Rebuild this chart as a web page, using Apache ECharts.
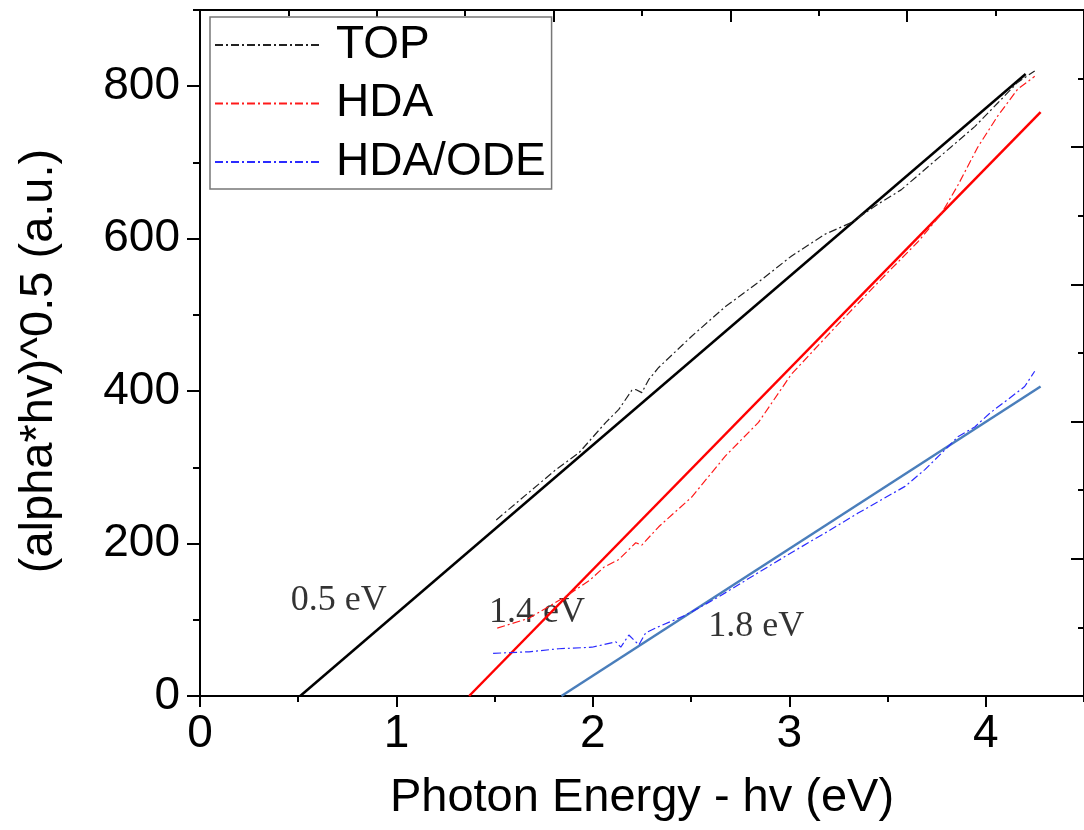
<!DOCTYPE html>
<html>
<head>
<meta charset="utf-8">
<title>Tauc plot</title>
<script src="https://cdn.jsdelivr.net/npm/echarts@6/dist/echarts.min.js"></script>
<style>
  html, body { margin: 0; padding: 0; background: #fff; }
  #chart { width: 1084px; height: 830px; }
</style>
</head>
<body>
<div id="chart"></div>
<script>
// measured curves, x = photon energy (eV), y = (alpha*hv)^0.5 (a.u.)
const topX = [1.508, 1.812, 1.929, 2.066, 2.132, 2.198, 2.218, 2.249, 2.284, 2.335, 2.503, 2.675,
	2.843, 3.010, 3.183, 3.315, 3.437, 3.569, 3.655, 3.822, 3.944, 4.061, 4.162, 4.249];
const topY = [231, 297, 319, 359, 376, 401, 402, 398, 415, 431, 472, 511,
	543, 577, 606, 621, 643, 664, 683, 720, 747, 778, 805, 820];

const hdaX = [1.513, 1.675, 1.858, 1.985, 2.056, 2.132, 2.218, 2.249, 2.335, 2.503, 2.675,
	2.843, 3.010, 3.249, 3.487, 3.655, 3.772, 3.858, 3.959, 4.061, 4.162, 4.249];
const hdaY = [89, 102, 130, 152, 169, 179, 201, 198, 222, 261, 315,
	359, 422, 488, 552, 596, 632, 670, 720, 761, 796, 813];

const odeX = [1.492, 1.675, 1.827, 1.995, 2.117, 2.142, 2.183, 2.234, 2.269, 2.335, 2.472, 2.640,
	2.843, 3.010, 3.183, 3.350, 3.589, 3.690, 3.792, 3.858, 3.944, 4.025, 4.112, 4.198, 4.249];
const odeY = [56, 58, 62, 64, 71, 64, 80, 67, 83, 91, 106, 130,
	162, 188, 214, 240, 275, 297, 323, 340, 353, 372, 389, 406, 426];

// linear fits (end points)
const fitTopX = [0.51, 4.203];
const fitTopY = [0, 816];
const fitHdaX = [1.37, 4.279];
const fitHdaY = [0, 766];
const fitOdeX = [1.84, 4.279];
const fitOdeY = [0, 406];

// band gap annotations
const gapTexts = ['0.5 eV', '1.4 eV', '1.8 eV'];
const gapX = [0.706, 1.716, 2.832];
const gapY = [125, 109, 91];

// ticks
const xMajor = [0, 1, 2, 3, 4];
const xMinor = [0.5, 1.5, 2.5, 3.5, 4.5];
const yMajor = [0, 200, 400, 600, 800];
const yMinor = [100, 300, 500, 700, 900];
// the top / right frame carries its own 0..5 scale
const frameMajor = [0, 1, 2, 3, 4, 5];
const frameMinor = [0.5, 1.5, 2.5, 3.5, 4.5];

const zip = (xs, ys) => xs.map((x, i) => [x, ys[i]]);

const SANS = '"Liberation Sans", Arial, sans-serif';
const SERIF = '"Liberation Serif", "Times New Roman", serif';
const dashDot = [8, 3, 2, 3];
const black = { color: '#000', width: 2 };

const chart = echarts.init(document.getElementById('chart'));

// one axis per tick set, all stacked on the same grid
const tickAxis = (position, max, values, len, inside, extra) =>
	Object.assign(
		{
			type: 'value',
			position,
			min: 0,
			max,
			axisLine: { show: false, onZero: false },
			axisTick: { show: true, inside, length: len, lineStyle: black, customValues: values },
			axisLabel: { show: false },
			splitLine: { show: false },
		},
		extra || {}
	);

const tickFont = { fontSize: 46, fontFamily: SANS, color: '#000' };
const frameLine = { show: true, onZero: false, lineStyle: black };

const xAxis = [
	tickAxis('bottom', 4.5, xMajor, 11, false, {
		axisLine: frameLine,
		axisLabel: Object.assign({ show: true, margin: 15, customValues: xMajor }, tickFont),
		name: 'Photon Energy - hv (eV)',
		nameLocation: 'middle',
		nameGap: 79,
		nameTextStyle: { fontSize: 47, fontFamily: SANS, color: '#000' },
	}),
	tickAxis('bottom', 4.5, xMinor, 6, false),
	tickAxis('top', 5, frameMajor, 12, true, { axisLine: frameLine }),
	tickAxis('top', 5, frameMinor, 6, true),
];

const yAxis = [
	tickAxis('left', 900, yMajor, 13, false, {
		axisLine: frameLine,
		axisLabel: Object.assign({ show: true, margin: 20, customValues: yMajor }, tickFont),
		name: '(alpha*hv)^0.5 (a.u.)',
		nameLocation: 'middle',
		nameRotate: 90,
		nameGap: 137,
		nameTextStyle: { fontSize: 47, fontFamily: SANS, color: '#000', padding: [0, 16, 0, 0] },
	}),
	tickAxis('left', 900, yMinor, 7, false),
	tickAxis('right', 5, frameMajor, 13, true, { axisLine: frameLine }),
	tickAxis('right', 5, frameMinor, 6, true),
];

const curve = (name, xs, ys, color) => ({
	name,
	type: 'line',
	symbol: 'none',
	lineStyle: { color, width: 1.2, type: dashDot },
	itemStyle: { color },
	data: zip(xs, ys),
});

const fit = (xs, ys, color) => ({
	type: 'line',
	symbol: 'none',
	lineStyle: { color, width: 2.5 },
	data: zip(xs, ys),
});

const series = [
	fit(fitTopX, fitTopY, '#000'),
	fit(fitHdaX, fitHdaY, '#ff0000'),
	fit(fitOdeX, fitOdeY, '#4a7ebb'),
	curve('TOP', topX, topY, '#222'),
	curve('HDA', hdaX, hdaY, '#ff1a1a'),
	curve('HDA/ODE', odeX, odeY, '#2b2bff'),
	{
		type: 'scatter',
		symbolSize: 0,
		data: gapX.map((x, i) => ({ value: [x, gapY[i]], name: gapTexts[i] })),
		label: {
			show: true,
			position: [0, 0],
			align: 'center',
			verticalAlign: 'middle',
			formatter: (p) => p.name,
			fontSize: 36,
			fontFamily: SERIF,
			color: '#000',
			textBorderWidth: 0,
		},
	},
];

chart.setOption({
	animation: false,
	backgroundColor: '#fff',
	grid: { left: 200, top: 10, width: 886.5, height: 686 },
	legend: {
		data: ['TOP', 'HDA', 'HDA/ODE'],
		orient: 'vertical',
		left: 210,
		top: 17,
		padding: [3, 6, 2, 4],
		itemWidth: 106,
		itemHeight: 2,
		itemGap: 8.5,
		itemStyle: { opacity: 0 },
		backgroundColor: '#fff',
		borderColor: '#777',
		borderWidth: 1.5,
		textStyle: {
			fontSize: 46,
			lineHeight: 50,
			fontFamily: SANS,
			color: '#000',
			padding: [0, 0, 0, 10],
		},
	},
	xAxis,
	yAxis,
	series,
});
</script>
</body>
</html>
